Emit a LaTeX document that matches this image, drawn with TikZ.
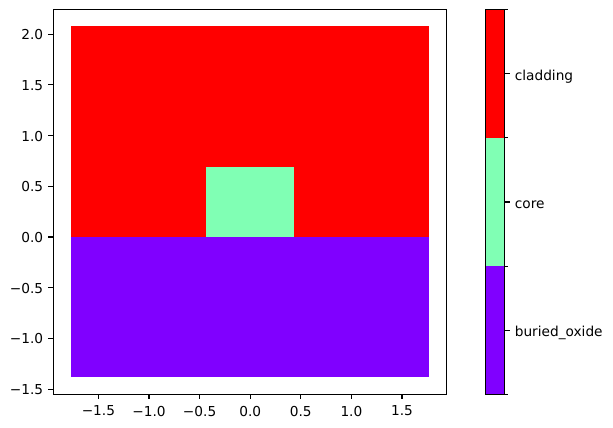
\documentclass[tikz,border=0pt]{standalone}
\usepackage{fontspec}
\setmainfont{DejaVu Sans}
\usetikzlibrary{positioning}

\definecolor{oxidecol}{RGB}{128,0,255}
\definecolor{corecol}{RGB}{128,255,180}
\definecolor{cladcol}{RGB}{255,0,0}

\begin{document}
\begin{tikzpicture}[x=1pt, y=1pt,
    every node/.style={font=\fontsize{13.7}{16}\selectfont, inner sep=0pt},
    spine/.style={draw=black, line width=1.1pt},
    tickline/.style={black, line width=1.1pt}]
    \useasboundingbox (0,0) rectangle (613,428);

    % cross section in data coordinates
    \begin{scope}[shift={(250.2,191)}, x=101.2pt, y=101.4pt]
        \fill[cladcol] (-1.77,0) rectangle (1.77,2.08);
        \fill[oxidecol] (-1.77,-1.376) rectangle (1.77,0);
        \fill[corecol] (-0.435,0) rectangle (0.435,0.69);
        \draw[spine] (-1.946,-1.55) rectangle (1.938,2.243);
        \foreach \t/\lab in {-1.5/−1.5, -1.0/−1.0, -0.5/−0.5, 0/0.0, 0.5/0.5, 1.0/1.0, 1.5/1.5}
            \draw[tickline] (\t,-1.55) -- ++(0,-4.9pt) node[below=6.3pt] {\lab};
        \foreach \t/\lab in {-1.5/−1.5, -1.0/−1.0, -0.5/−0.5, 0/0.0, 0.5/0.5, 1.0/1.0, 1.5/1.5, 2.0/2.0}
            \draw[tickline] (-1.946,\t) -- ++(-4.9pt,0) node[left=4.6pt, yshift=-0.6pt] {\lab};
    \end{scope}

    % colorbar
    \fill[oxidecol] (485.3,33.7) rectangle (504.7,161.9);
    \fill[corecol] (485.3,161.9) rectangle (504.7,290.1);
    \fill[cladcol] (485.3,290.1) rectangle (504.7,418.3);
    \draw[spine] (485.3,33.7) rectangle (504.7,418.3);
    \foreach \y in {33.7, 161.9, 290.1, 418.3}
        \draw[tickline] (504.7,\y) -- ++(2.8,0);
    \foreach \y/\lab in {97.8/buried\_oxide, 226/core, 354.2/cladding}
        \draw[tickline] (504.7,\y) -- ++(4.9,0)
            node[anchor=base west, xshift=4.7pt, yshift=-6.4pt] {\lab};
\end{tikzpicture}
\end{document}
